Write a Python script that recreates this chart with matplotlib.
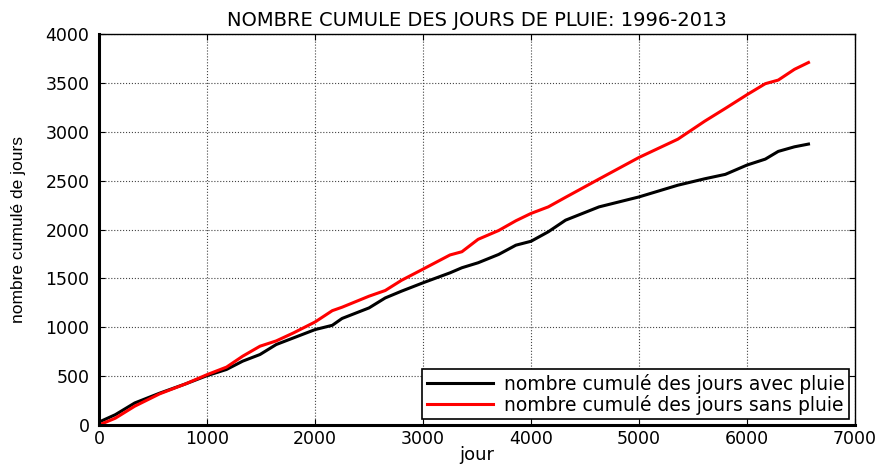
import matplotlib
matplotlib.use('Agg')
import matplotlib.pyplot as plt

# cumulative day counts (jour -> count)
jour = [0, 150, 330, 560, 800, 1000, 1180, 1330, 1490, 1640, 1800, 2000,
        2160, 2250, 2500, 2650, 2800, 3000, 3250, 3360, 3510, 3700, 3860,
        4000, 4160, 4320, 4630, 5000, 5360, 5610, 5800, 6000, 6170, 6290,
        6440, 6570]
avec_pluie = [30, 105, 225, 325, 420, 505, 568, 653, 721, 823, 891, 976,
              1020, 1090, 1198, 1300, 1369, 1455, 1557, 1609, 1660, 1745, 1840,
              1880, 1977, 2096, 2232, 2334, 2454, 2520, 2565, 2660, 2721, 2800,
              2847, 2875]
sans_pluie = [0, 69, 192, 318, 420, 515, 592, 704, 806, 860, 942, 1054,
              1170, 1205, 1318, 1376, 1480, 1595, 1740, 1773, 1900, 1990, 2090,
              2165, 2232, 2330, 2517, 2738, 2925, 3110, 3240, 3380, 3493, 3530,
              3640, 3710]

title = 'NOMBRE CUMULE DES JOURS DE PLUIE: 1996-2013'
labels = ['nombre cumulé des jours avec pluie', 'nombre cumulé des jours sans pluie']
xticks = [0, 1000, 2000, 3000, 4000, 5000, 6000, 7000]
yticks = [0, 500, 1000, 1500, 2000, 2500, 3000, 3500, 4000]

plt.rcParams['font.family'] = ['DejaVu Sans']

fig = plt.figure(figsize=(8.85, 4.68), dpi=100)
ax = fig.add_axes([0.112, 0.092, 0.854, 0.835])

ax.plot(jour, avec_pluie, color='black', lw=2.2, label=labels[0])
ax.plot(jour, sans_pluie, color='red', lw=2.2, label=labels[1])

ax.set_xlim(0, 7000)
ax.set_ylim(0, 4000)
ax.set_xticks(xticks)
ax.set_yticks(yticks)
ax.tick_params(direction='in', top=True, right=True, labelsize=12.5, length=4)
ax.tick_params(axis='y', pad=7)
ax.tick_params(axis='x', pad=4)
ax.grid(True, color='#444444', linestyle=':', linewidth=0.8)
for side in ['left', 'bottom']:
    ax.spines[side].set_linewidth(2.2)
for side in ['top', 'right']:
    ax.spines[side].set_linewidth(1)

ax.set_title(title, fontsize=14, pad=6)
ax.set_xlabel('jour', fontsize=13, labelpad=-2)
ax.set_ylabel('nombre cumulé de jours', fontsize=12.5, labelpad=14,
              family=['Liberation Sans', 'DejaVu Sans'])

leg = ax.legend(loc='lower right', fontsize=13.5, fancybox=False, framealpha=1,
                edgecolor='black', borderaxespad=0.3, handlelength=3.5,
                handletextpad=0.6, borderpad=0.25, labelspacing=0.05)
leg.get_frame().set_linewidth(1.2)

fig.savefig('out.png', dpi=100)
